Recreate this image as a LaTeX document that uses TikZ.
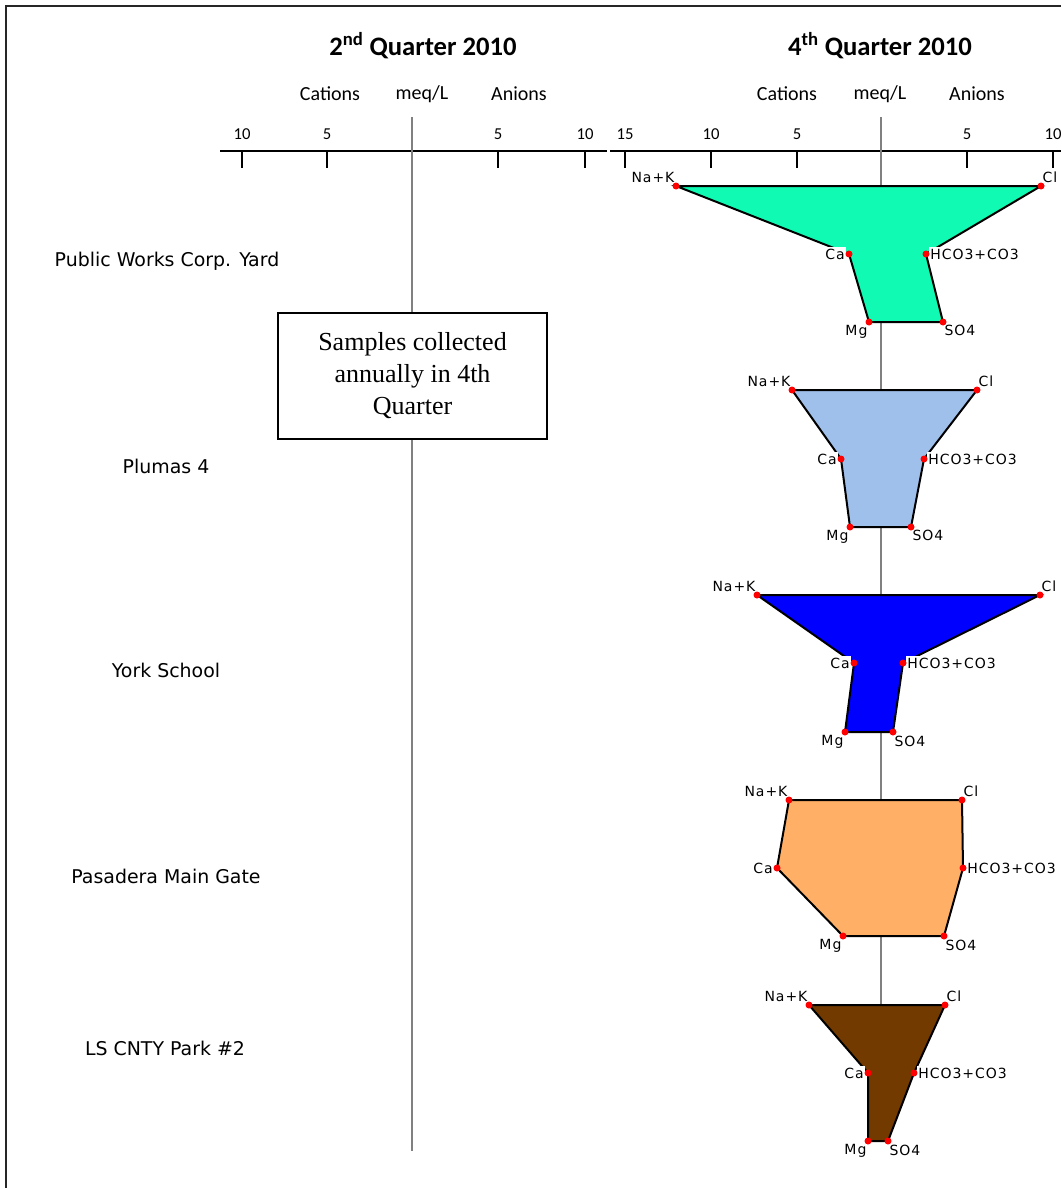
\documentclass[tikz,border=0pt]{standalone}
\usepackage{fontspec}
\newfontfamily\calibrifont{Carlito}
\newfontfamily\sitefont{DejaVu Sans}
\newfontfamily\ionfont[LetterSpace=7]{DejaVu Sans}
\newfontfamily\notefont{Liberation Serif}
\definecolor{pwcy}{RGB}{16,250,180}
\definecolor{plum}{RGB}{160,192,236}
\definecolor{york}{RGB}{0,0,255}
\definecolor{pasa}{RGB}{255,176,102}
\definecolor{lscp}{RGB}{115,58,0}
\definecolor{midgray}{RGB}{128,128,128}
\tikzset{
  stiff/.style={draw=black, line width=1.5pt, line join=miter},
  ion/.style={font=\ionfont\fontsize{10.5}{12}\selectfont, fill=white, inner sep=1pt},
  dot/.style={fill=red},
  site/.style={font=\sitefont\fontsize{14.2}{17}\selectfont},
  quarter/.style={font=\calibrifont\bfseries\fontsize{20}{24}\selectfont},
  axishead/.style={font=\calibrifont\fontsize{15}{18}\selectfont},
  ticklab/.style={font=\calibrifont\fontsize{12.5}{15}\selectfont},
  note/.style={draw, line width=1.1pt, fill=white, align=center,
    minimum width=201.75pt, minimum height=94.5pt,
    font=\notefont\fontsize{19.5}{24}\selectfont}
}
\begin{document}
\begin{tikzpicture}[x=0.75pt, y=-0.75pt]
  \useasboundingbox (0,0) rectangle (1061,1188);
  % frame
  \draw[line width=2pt, black!85] (6,1188) |- (1061,6);
  % headings
  \node[quarter] (q2) at (423,46) {2\textsuperscript{nd} Quarter 2010};
  \node[quarter] (q4) at (880,46) {4\textsuperscript{th} Quarter 2010};
  \node[axishead] (cat2) at (330,94) {Cations};
  \node[axishead] (meq2) at (422,94) {meq/L};
  \node[axishead] (an2) at (519,94) {Anions};
  \node[axishead] (cat4) at (787,94) {Cations};
  \node[axishead] (meq4) at (880,94) {meq/L};
  \node[axishead] (an4) at (977,94) {Anions};
  % axes
  \coordinate (ax2w) at (220,151);
  \coordinate (ax2e) at (607,151);
  \coordinate (ax4w) at (610,151);
  \coordinate (ax4e) at (1061,151);
  \begin{scope}[line width=1.5pt]
    \draw (ax2w) -- (ax2e);
    \draw (ax4w) -- (ax4e);
    \draw (242,151) -- (242,168);
    \draw (327,151) -- (327,168);
    \draw (498,151) -- (498,168);
    \draw (585,151) -- (585,168);
    \draw (625,151) -- (625,168);
    \draw (711,151) -- (711,168);
    \draw (797,151) -- (797,168);
    \draw (967,151) -- (967,168);
    \draw (1053,151) -- (1053,168);
  \end{scope}
  \node[ticklab] (t2a) at (242,134) {10};
  \node[ticklab] (t2b) at (327,134) {5};
  \node[ticklab] (t2c) at (498,134) {5};
  \node[ticklab] (t2d) at (585,134) {10};
  \node[ticklab] (t4a) at (625,134) {15};
  \node[ticklab] (t4b) at (711,134) {10};
  \node[ticklab] (t4c) at (797,134) {5};
  \node[ticklab] (t4d) at (967,134) {5};
  \node[ticklab] (t4e) at (1053,134) {10};
  % zero lines
  \coordinate (z2top) at (412,117);
  \coordinate (z2bot) at (412,1151);
  \coordinate (z4top) at (881,117);
  \coordinate (z4bot) at (881,1141);
  \draw[midgray, line width=1.1pt] (z2top) -- (z2bot);
  \draw[midgray, line width=1.1pt] (z4top) -- (z4bot);
  % note
  \node[note] (notebox) at (412.5,376) {Samples collected\\annually in 4th\\Quarter};
  % sites
  \node[site] (s1) at (167,261) {Public Works Corp. Yard};
  \node[site] (s2) at (166,466) {Plumas 4};
  \node[site] (s3) at (166,670) {York School};
  \node[site] (s4) at (166,876) {Pasadera Main Gate};
  \node[site] (s5) at (165,1048) {LS CNTY Park \#2};
  % Public Works Corp. Yard
  \draw[stiff, fill=pwcy] (676,186) coordinate (nak1) -- (1041,186) coordinate (cl1)
    -- (926,254) coordinate (hco1) -- (943,322) coordinate (so1)
    -- (869,322) coordinate (mg1) -- (849,254) coordinate (ca1) -- cycle;
  \node[ion, anchor=south east] (nak1t) at ([yshift=1pt]nak1) {Na+K};
  \node[ion, anchor=south west] (cl1t) at ([yshift=1pt]cl1) {Cl};
  \node[ion, anchor=west] (hco1t) at ([xshift=2pt]hco1) {HCO3+CO3};
  \node[ion, anchor=north west] (so1t) at ([yshift=-1.5pt]so1) {SO4};
  \node[ion, anchor=north east] (mg1t) at ([yshift=-1.5pt]mg1) {Mg};
  \node[ion, anchor=east] (ca1t) at ([xshift=-2pt]ca1) {Ca};
  \foreach \v in {nak1,cl1,hco1,so1,mg1,ca1} \fill[dot] (\v) circle (3.5);
  % Plumas 4
  \draw[stiff, fill=plum] (792,390) coordinate (nak2) -- (977,390) coordinate (cl2)
    -- (924,459) coordinate (hco2) -- (911,527) coordinate (so2)
    -- (850,527) coordinate (mg2) -- (841,459) coordinate (ca2) -- cycle;
  \node[ion, anchor=south east] (nak2t) at ([yshift=1pt]nak2) {Na+K};
  \node[ion, anchor=south west] (cl2t) at ([yshift=1pt]cl2) {Cl};
  \node[ion, anchor=west] (hco2t) at ([xshift=2pt]hco2) {HCO3+CO3};
  \node[ion, anchor=north west] (so2t) at ([yshift=-1.5pt]so2) {SO4};
  \node[ion, anchor=north east] (mg2t) at ([yshift=-1.5pt]mg2) {Mg};
  \node[ion, anchor=east] (ca2t) at ([xshift=-2pt]ca2) {Ca};
  \foreach \v in {nak2,cl2,hco2,so2,mg2,ca2} \fill[dot] (\v) circle (3.5);
  % York School
  \draw[stiff, fill=york] (757,595) coordinate (nak3) -- (1040,595) coordinate (cl3)
    -- (903,663) coordinate (hco3) -- (893,732) coordinate (so3)
    -- (845,732) coordinate (mg3) -- (854,663) coordinate (ca3) -- cycle;
  \node[ion, anchor=south east] (nak3t) at ([yshift=1pt]nak3) {Na+K};
  \node[ion, anchor=south west] (cl3t) at ([yshift=1pt]cl3) {Cl};
  \node[ion, anchor=west] (hco3t) at ([xshift=2pt]hco3) {HCO3+CO3};
  \node[ion, anchor=north west] (so3t) at ([yshift=-1.5pt]so3) {SO4};
  \node[ion, anchor=north east] (mg3t) at ([yshift=-1.5pt]mg3) {Mg};
  \node[ion, anchor=east] (ca3t) at ([xshift=-2pt]ca3) {Ca};
  \foreach \v in {nak3,cl3,hco3,so3,mg3,ca3} \fill[dot] (\v) circle (3.5);
  % Pasadera Main Gate
  \draw[stiff, fill=pasa] (789,800) coordinate (nak4) -- (962,800) coordinate (cl4)
    -- (963,868) coordinate (hco4) -- (944,936) coordinate (so4)
    -- (843,936) coordinate (mg4) -- (777,868) coordinate (ca4) -- cycle;
  \node[ion, anchor=south east] (nak4t) at ([yshift=1pt]nak4) {Na+K};
  \node[ion, anchor=south west] (cl4t) at ([yshift=1pt]cl4) {Cl};
  \node[ion, anchor=west] (hco4t) at ([xshift=2pt]hco4) {HCO3+CO3};
  \node[ion, anchor=north west] (so4t) at ([yshift=-1.5pt]so4) {SO4};
  \node[ion, anchor=north east] (mg4t) at ([yshift=-1.5pt]mg4) {Mg};
  \node[ion, anchor=east] (ca4t) at ([xshift=-2pt]ca4) {Ca};
  \foreach \v in {nak4,cl4,hco4,so4,mg4,ca4} \fill[dot] (\v) circle (3.5);
  % LS CNTY Park #2
  \draw[stiff, fill=lscp] (809,1005) coordinate (nak5) -- (945,1005) coordinate (cl5)
    -- (914,1073) coordinate (hco5) -- (888,1141) coordinate (so5)
    -- (868,1141) coordinate (mg5) -- (868,1073) coordinate (ca5) -- cycle;
  \node[ion, anchor=south east] (nak5t) at ([yshift=1pt]nak5) {Na+K};
  \node[ion, anchor=south west] (cl5t) at ([yshift=1pt]cl5) {Cl};
  \node[ion, anchor=west] (hco5t) at ([xshift=2pt]hco5) {HCO3+CO3};
  \node[ion, anchor=north west] (so5t) at ([yshift=-1.5pt]so5) {SO4};
  \node[ion, anchor=north east] (mg5t) at ([yshift=-1.5pt]mg5) {Mg};
  \node[ion, anchor=east] (ca5t) at ([xshift=-2pt]ca5) {Ca};
  \foreach \v in {nak5,cl5,hco5,so5,mg5,ca5} \fill[dot] (\v) circle (3.5);
\end{tikzpicture}
\end{document}
